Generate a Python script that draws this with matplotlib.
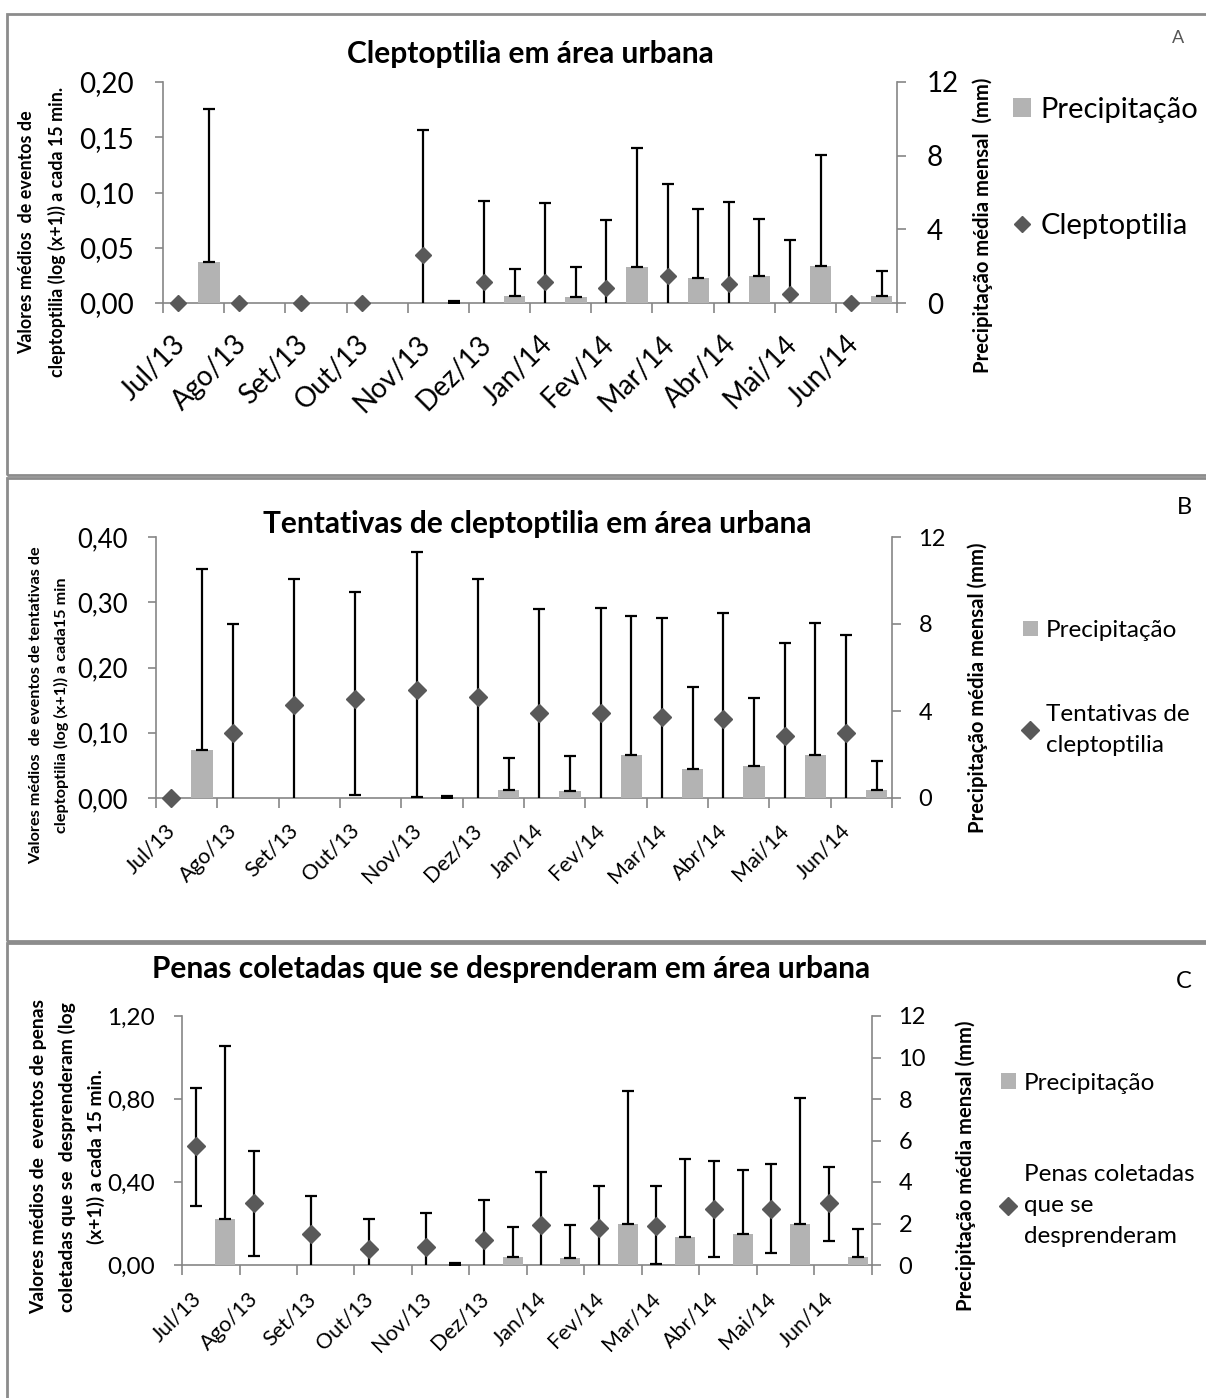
import numpy as np
import matplotlib.pyplot as plt
from matplotlib.patches import Rectangle, Patch
from matplotlib.lines import Line2D

plt.rcParams['font.family'] = ['Lato', 'DejaVu Sans']

W, H = 1206, 1398

months = ["Jul/13", "Ago/13", "Set/13", "Out/13", "Nov/13", "Dez/13",
          "Jan/14", "Fev/14", "Mar/14", "Abr/14", "Mai/14", "Jun/14"]

# precipitacao media mensal (mm), igual nos tres graficos
precip = [2.20, 0.02, 0.02, 0.02, 0.02, 0.37, 0.32, 1.98, 1.34, 1.47, 1.99, 0.39]
precip_sd = [8.34, 0, 0, 0, 0.08, 1.46, 1.62, 6.41, 3.77, 3.11, 6.07, 1.33]

# A - cleptoptilia
klepto = [0, 0, 0, 0, 0.0434, 0.0190, 0.0187, 0.0135, 0.0247, 0.0169, 0.0084, 0]
klepto_up = [0, 0, 0, 0, 0.1136, 0.0733, 0.0715, 0.0616, 0.0830, 0.0745, 0.0486, 0]
klepto_low = klepto_up

# B - tentativas de cleptoptilia
tent = [0, 0.099, 0.1425, 0.151, 0.166, 0.155, 0.1307, 0.1307, 0.1246, 0.121, 0.0955, 0.099]
tent_up = [0, 0.167, 0.193, 0.165, 0.2115, 0.181, 0.159, 0.160, 0.152, 0.162, 0.1415, 0.151]
tent_low = [0, 0.167, 0.193, 0.146, 0.164, 0.181, 0.159, 0.160, 0.152, 0.162, 0.1415, 0.151]

# C - penas coletadas que se desprenderam
penas = [0.5735, 0.297, 0.149, 0.0755, 0.088, 0.120, 0.195, 0.180, 0.190, 0.268, 0.268, 0.297]
penas_up = [0.2815, 0.251, 0.185, 0.1445, 0.164, 0.193, 0.255, 0.200, 0.190, 0.233, 0.217, 0.174]
penas_low = [0.2895, 0.252, 0.185, 0.1445, 0.164, 0.193, 0.255, 0.200, 0.187, 0.228, 0.212, 0.180]

AXIS_GRAY = "#868686"
BAR_GRAY = "#b3b3b3"
DIAMOND = "#595959"
BOX_GRAY = "#8c8c8c"


def fx(x):
    return x / W


def fy(y):
    return 1 - y / H


def comma(v, nd):
    return f"{v:.{nd}f}".replace(".", ",")


panels = [
    dict(mean=klepto, up=klepto_up, low=klepto_low, series="Cleptoptilia",
         title="Cleptoptilia em área urbana", title_xy=(530, 54),
         tag="A", tag_xy=(1178, 38), tag_color="#555555", tag_fs=13,
         box=(7, 14, 475), rect=(163, 82, 897, 303),
         ymax=0.20, yticks=[0, 0.05, 0.10, 0.15, 0.20], y2ticks=[0, 4, 8, 12],
         tick_fs=20, tick2_fs=20, xfs=20, ypad=15, y2pad=15, xpad=20, ms=8.3,
         ylabel="Valores médios  de eventos de\ncleptoptilia (log (x+1)) a cada 15 min.",
         ylabel_xy=(42, 232), ylabel_fs=12.9, ylabel_ls=1.85,
         y2label="Precipitação média mensal  (mm)", y2label_xy=(983, 225), y2label_fs=14.6,
         leg_xy=(1013, 168), leg_fs=21, leg_space=3.1, leg_ls=1.2),
    dict(mean=tent, up=tent_up, low=tent_low, series="Tentativas de\ncleptoptilia",
         title="Tentativas de cleptoptilia em área urbana", title_xy=(537, 524),
         tag="B", tag_xy=(1184, 508), tag_color="black", tag_fs=17,
         box=(7, 478, 941), rect=(156, 537, 892, 798),
         ymax=0.40, yticks=[0, 0.10, 0.20, 0.30, 0.40], y2ticks=[0, 4, 8, 12],
         tick_fs=18.5, tick2_fs=17, xfs=15.5, ypad=14, y2pad=12.5, xpad=16, ms=9.0,
         ylabel="Valores médios  de eventos de tentativas de\ncleptoptilia (log (x+1)) a cada15 min",
         ylabel_xy=(49, 705), ylabel_fs=11.7, ylabel_ls=1.95,
         y2label="Precipitação média mensal (mm)", y2label_xy=(978, 688), y2label_fs=14.6,
         leg_xy=(1023, 688), leg_fs=17.5, leg_space=2.6, leg_ls=1.6),
    dict(mean=penas, up=penas_up, low=penas_low, series="Penas coletadas\nque se\ndesprenderam",
         title="Penas coletadas que se desprenderam em área urbana", title_xy=(511, 969),
         tag="C", tag_xy=(1184, 982), tag_color="black", tag_fs=17,
         box=(7, 943, 1410), rect=(182, 1016, 872, 1265),
         ymax=1.20, yticks=[0, 0.40, 0.80, 1.20], y2ticks=[0, 2, 4, 6, 8, 10, 12],
         tick_fs=17.5, tick2_fs=17, xfs=15.5, ypad=13.5, y2pad=12.5, xpad=17, ms=9.5,
         ylabel="Valores médios de  eventos de penas\ncoletadas que se  desprenderam (log\n(x+1)) a cada 15 min.",
         ylabel_xy=(68, 1157), ylabel_fs=13.9, ylabel_ls=1.72,
         y2label="Precipitação média mensal (mm)", y2label_xy=(966, 1166), y2label_fs=14.6,
         leg_xy=(1001, 1160), leg_fs=17.5, leg_space=2.9, leg_ls=1.6),
]

fig = plt.figure(figsize=(W / 100, H / 100), dpi=100)
x = np.arange(len(months))

for p in panels:
    # moldura de cada grafico
    bx, btop, bbot = p["box"]
    fig.add_artist(Rectangle((fx(bx), fy(bbot)), fx(1220 - bx), (bbot - btop) / H,
                             transform=fig.transFigure, fill=False,
                             edgecolor=BOX_GRAY, linewidth=2))

    left, top, right, bottom = p["rect"]
    ax = fig.add_axes([fx(left), fy(bottom), fx(right - left), (bottom - top) / H])
    ax2 = ax.twinx()
    ax.set_xlim(0, 12)
    ax.set_ylim(0, p["ymax"])
    ax2.set_ylim(0, 12)

    # precipitacao (eixo secundario)
    pr = np.array(precip)
    psd = np.array(precip_sd)
    ax2.bar(x + 0.75, pr, width=0.35, color=BAR_GRAY, zorder=2)
    keep = psd > 0
    ax2.errorbar((x + 0.75)[keep], pr[keep], yerr=[np.zeros(keep.sum()), psd[keep]],
                 fmt="none", ecolor="black", elinewidth=1.6, capsize=4.3,
                 capthick=1.6, zorder=3)

    # serie principal (eixo primario)
    m = np.array(p["mean"])
    up = np.array(p["up"])
    low = np.array(p["low"])
    keep = up > 0
    ax.errorbar((x + 0.25)[keep], m[keep], yerr=[low[keep], up[keep]],
                fmt="none", ecolor="black", elinewidth=1.6, capsize=4.3,
                capthick=1.6, zorder=3)
    ax.plot(x + 0.25, m, "D", color=DIAMOND, ms=p["ms"], clip_on=False, zorder=4)

    # eixos
    for s in ["top", "right"]:
        ax.spines[s].set_visible(False)
    for s in ["top", "left", "bottom"]:
        ax2.spines[s].set_visible(False)
    for s in [ax.spines["left"], ax.spines["bottom"], ax2.spines["right"]]:
        s.set_color(AXIS_GRAY)
        s.set_linewidth(1.2)

    ax.set_yticks(p["yticks"])
    ax.set_yticklabels([comma(v, 2) for v in p["yticks"]])
    ax.tick_params(axis="y", length=6, width=1.2, color=AXIS_GRAY,
                   labelsize=p["tick_fs"], pad=p["ypad"])
    ax2.set_yticks(p["y2ticks"])
    ax2.set_yticklabels([str(v) for v in p["y2ticks"]])
    ax2.tick_params(axis="y", length=6.5, width=1.2, color=AXIS_GRAY,
                    labelsize=p["tick2_fs"], pad=p["y2pad"])

    ax.set_xticks(np.arange(13))
    ax.set_xticklabels([""] * 13)
    ax.tick_params(axis="x", which="major", length=7, width=1.2, color=AXIS_GRAY)
    ax.set_xticks(x + 0.15, minor=True)
    ax.set_xticklabels(months, minor=True, rotation=45, ha="right", va="top",
                       rotation_mode="anchor", fontsize=p["xfs"])
    ax.tick_params(axis="x", which="minor", length=0, pad=p["xpad"])

    # textos
    fig.text(fx(p["title_xy"][0]), fy(p["title_xy"][1]), p["title"], ha="center",
             va="center", fontsize=21.5, fontweight="bold")
    fig.text(fx(p["tag_xy"][0]), fy(p["tag_xy"][1]), p["tag"], ha="center",
             va="center", fontsize=p["tag_fs"], color=p["tag_color"])
    fig.text(fx(p["ylabel_xy"][0]), fy(p["ylabel_xy"][1]), p["ylabel"], rotation=90,
             ha="center", va="center", multialignment="center",
             fontsize=p["ylabel_fs"], fontweight="bold", linespacing=p["ylabel_ls"])
    fig.text(fx(p["y2label_xy"][0]), fy(p["y2label_xy"][1]), p["y2label"], rotation=90,
             ha="center", va="center", fontsize=p["y2label_fs"], fontweight="bold")

    handles = [Patch(facecolor=BAR_GRAY, edgecolor="none"),
               Line2D([], [], marker="D", color=DIAMOND, linestyle="none", ms=p["ms"])]
    leg = fig.legend(handles, ["Precipitação", p["series"]], loc="center left",
                     bbox_to_anchor=(fx(p["leg_xy"][0]), fy(p["leg_xy"][1])),
                     frameon=False, fontsize=p["leg_fs"], borderpad=0, borderaxespad=0,
                     handlelength=0.6, handleheight=0.6, handletextpad=0.35,
                     labelspacing=p["leg_space"])
    for t in leg.get_texts():
        t.set_linespacing(p["leg_ls"])

fig.savefig("out.png", dpi=100)
